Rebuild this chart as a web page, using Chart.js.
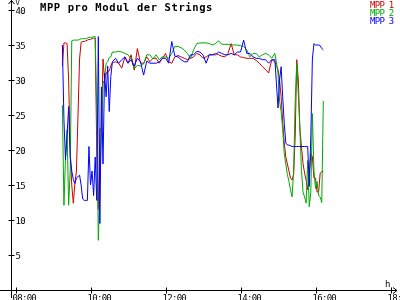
<!DOCTYPE html>
<html>
<head>
<meta charset="utf-8">
<script src="https://cdn.jsdelivr.net/npm/chart.js@4.4.1/dist/chart.umd.min.js"></script>
<style>
html, body { margin: 0; padding: 0; background: #fff; }
#wrap { position: relative; width: 400px; height: 300px; }
</style>
</head>
<body>
<div id="wrap"><canvas id="mppChart"></canvas></div>
<script>
// time of day in minutes since midnight
const times = [
    555, 557.5, 560, 562.5, 565, 567.5, 570, 572.5, 575, 577.5, 580, 582.5, 585, 587.5, 590, 592.5,
    595, 597.5, 600, 602.5, 605, 607.5, 610, 612.5, 615, 617.5, 620, 622.5, 625, 627.5, 630, 632.5, 635,
    640, 645, 650, 655, 660, 665, 670, 675, 680, 685, 690, 695, 700, 705, 710, 715,
    720, 725, 730, 735, 740, 745, 750, 755, 760, 765, 770, 775,
    780, 785, 790, 795, 800, 805, 810, 815, 820, 825, 830, 835,
    840, 845, 850, 855, 860, 865, 870, 875, 880, 885, 890, 895,
    900, 902.5, 905, 907.5, 910, 912.5, 915, 917.5, 920, 922.5, 925, 927.5, 930, 932.5, 935,
    937.5, 940, 942.5, 945, 947.5, 950, 952.5, 955, 957.5, 960, 962.5, 965, 967.5, 970, 972.5
]

const mpp1 = [
    32, 35.3, 35.3, 35.2, 30, 20, 15, 12.4, 15.2, 17, 25, 33, 35.4, 35.5, 35.5, 35.6,
    35.7, 35.8, 35.8, 35.9, 36, 35.9, 20, 11.5, 23, 23, 33, 30, 31, 31.2, 31.3, 32, 32.5,
    32.6, 32.4, 31.7, 33.3, 32.4, 33.6, 31.4, 34.5, 32.4, 32.4, 33.3, 32.6, 33.1, 33.1, 32.4, 33.1,
    33.8, 32.6, 32.4, 33.3, 33.5, 33.3, 33.1, 32.9, 33.1, 33.3, 33.8, 33.6,
    33.1, 33.3, 33.6, 33.6, 33.8, 33.6, 33.4, 33.3, 33.8, 35.2, 33.6, 33.6,
    33.3, 33.2, 33.1, 33.1, 33.1, 32.8, 32.4, 31.9, 31.5, 31.0, 32.9, 32.6,
    31.5, 30, 27.6, 24, 21, 19, 18, 17, 16, 15.7, 16.5, 22, 32.9, 30, 23,
    20.5, 18.1, 16.7, 15.7, 14.3, 16.7, 19.5, 19, 16, 16, 14, 14, 16.7, 16.9, 16.9
]

const mpp2 = [
    26.4, 12.1, 19, 22.9, 12.1, 17, 35.6, 35.7, 35.7, 35.7, 35.7, 35.8, 35.9, 35.9, 35.9, 35.9,
    36, 36.1, 36.1, 36.1, 36.2, 36.2, 25.5, 7.1, 15, 22, 29.5, 30, 32.4, 32.6, 33.2, 33.3, 34,
    34, 34.1, 34, 33.8, 33.6, 33, 31.6, 32.1, 32, 32.3, 33.6, 33.6, 33.0, 33.6, 32.9, 33.3,
    33.3, 33.1, 33.8, 34.8, 34.8, 34.6, 34.3, 33.8, 33.1, 34.3, 35.2, 35.3,
    35.3, 35.3, 35.2, 35.0, 35.2, 35.6, 35.1, 35.1, 35.1, 35.0, 35.0, 35.0,
    34.9, 34.8, 34.3, 33.3, 33.8, 33.8, 33.3, 33.6, 33.8, 33.6, 33.1, 33.8,
    31, 27, 25.5, 23, 19.5, 18, 16.5, 15.5, 14.3, 13.3, 17, 27, 32.4, 28, 23,
    17.1, 14, 13.3, 12.4, 18.5, 11.9, 14, 25.2, 17, 14.5, 15.5, 13.5, 13.3, 12.5, 27
]

const mpp3 = [
    35, 24.3, 18.6, 22, 26.2, 19, 17, 15.8, 15.2, 16, 16.2, 16.4, 15, 13, 12.8, 12.8,
    12.8, 20.5, 15, 17, 13.5, 19, 12.8, 36.2, 9.5, 29, 18, 31, 27.6, 32, 25.5, 30.5, 32.6,
    33.1, 32.4, 32.9, 33.3, 32.4, 32.9, 32, 33.1, 32.6, 30.7, 32.7, 32.4, 32.4, 32.4, 32.6, 33.1,
    33.1, 32.4, 35.5, 33.4, 33.3, 32.9, 32.6, 32.6, 33.6, 33.6, 34.1, 34.0,
    33.6, 32.4, 33.6, 33.6, 33.6, 34.0, 33.8, 33.6, 33.6, 33.8, 33.6, 34.0,
    34.0, 35.7, 33.8, 33.8, 33.3, 33.1, 33.1, 32.9, 32.9, 32.4, 32.9, 32.9,
    26, 30, 31.9, 27.6, 23.8, 21, 20.7, 20.7, 20.6, 20.5, 20.5, 20.5, 20.5, 20.5, 20.5,
    20.5, 20.5, 20.5, 20.5, 20.5, 14.8, 22, 33, 35.2, 35, 35, 35, 34.9, 34.5, 34.3
]

const seriesNames = ['MPP 1', 'MPP 2', 'MPP 3']
const seriesColors = ['#cc0000', '#00aa00', '#0000ff']

const yTicks = [5, 10, 15, 20, 25, 30, 35, 40]
const xTicks = [480, 600, 720, 840, 960, 1080]
const xTickLabels = ['08:00', '10:00', '12:00', '14:00', '16:00', '18:00']

const titleText = 'MPP pro Modul der Strings'
const smallFont = '9px "DejaVu Sans Mono"'

function toPoints(values) {
    return values.map(function (v, i) {
        return { x: times[i], y: v }
    })
}

// axes, arrows, ticks, title and legend are painted by hand
const axesPlugin = {
    id: 'axesPlugin',
    afterDraw(chart) {
        const ctx = chart.ctx
        const xs = chart.scales.x
        const ys = chart.scales.y
        const ox = Math.round(xs.getPixelForValue(473)) + 0.5
        const oy = Math.round(ys.getPixelForValue(0)) + 0.5
        const right = chart.chartArea.right - 3
        ctx.save()
        ctx.strokeStyle = '#000'
        ctx.fillStyle = '#000'
        ctx.lineWidth = 1

        // axis lines
        ctx.beginPath()
        ctx.moveTo(0, oy)
        ctx.lineTo(right, oy)
        ctx.moveTo(ox, 0)
        ctx.lineTo(ox, chart.chartArea.bottom - 2)
        // arrow heads
        ctx.moveTo(ox - 3, 4)
        ctx.lineTo(ox, 0.5)
        ctx.lineTo(ox + 3, 4)
        ctx.moveTo(right - 4, oy - 3)
        ctx.lineTo(right, oy)
        ctx.lineTo(right - 4, oy + 3)
        ctx.stroke()

        ctx.font = smallFont
        ctx.letterSpacing = '-0.7px'
        ctx.textBaseline = 'alphabetic'
        ctx.textAlign = 'left'

        // y ticks
        yTicks.forEach(function (v) {
            const py = Math.round(ys.getPixelForValue(v)) + 0.5
            ctx.beginPath()
            ctx.moveTo(ox - 3, py)
            ctx.lineTo(ox + 3, py)
            ctx.stroke()
            ctx.fillText(String(v), ox + 4, py + 3.5)
        })

        // x ticks
        xTicks.forEach(function (t, i) {
            const px = Math.round(xs.getPixelForValue(t)) + 0.5
            ctx.beginPath()
            ctx.moveTo(px, oy - 3)
            ctx.lineTo(px, oy + 3)
            ctx.stroke()
            ctx.fillText(xTickLabels[i], px - 4, oy + 10)
        })

        // unit labels
        ctx.font = '7px "DejaVu Sans Mono"'
        ctx.letterSpacing = '0px'
        ctx.fillText('V', ox + 4, 5)
        ctx.font = smallFont
        ctx.fillText('h', right - 12, oy - 4)

        // title
        ctx.font = 'bold 10.5px "DejaVu Sans Mono"'
        ctx.letterSpacing = '0.6px'
        ctx.fillText(titleText, 40, 11)

        // legend
        ctx.font = smallFont
        ctx.letterSpacing = '-0.7px'
        seriesNames.forEach(function (name, i) {
            ctx.fillStyle = seriesColors[i]
            ctx.fillText(name, 370, 7.5 + i * 8)
        })
        ctx.restore()
    }
}

new Chart(document.getElementById('mppChart'), {
    type: 'line',
    data: {
        datasets: [
            { label: seriesNames[0], data: toPoints(mpp1), borderColor: seriesColors[0], order: 3 },
            { label: seriesNames[1], data: toPoints(mpp2), borderColor: seriesColors[1], order: 2 },
            { label: seriesNames[2], data: toPoints(mpp3), borderColor: seriesColors[2], order: 1 }
        ]
    },
    options: {
        responsive: true,
        maintainAspectRatio: false,
        animation: false,
        layout: { padding: 0 },
        elements: {
            line: { borderWidth: 1, tension: 0, fill: false },
            point: { radius: 0, hoverRadius: 0 }
        },
        scales: {
            x: { type: 'linear', display: false, min: 455.2, max: 1095.2 },
            y: { type: 'linear', display: false, min: -10 / 7, max: 290 / 7 }
        },
        plugins: {
            legend: { display: false },
            title: { display: false },
            tooltip: { enabled: false }
        }
    },
    plugins: [axesPlugin]
});
</script>
</body>
</html>
